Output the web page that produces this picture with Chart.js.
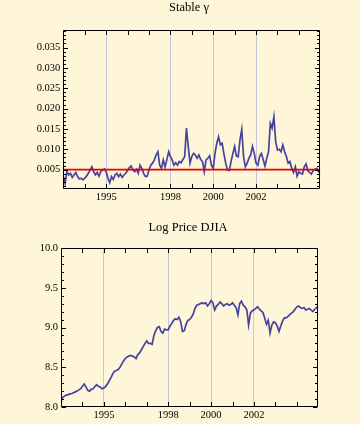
<!DOCTYPE html>
<html><head><meta charset="utf-8">
<script src="https://cdn.jsdelivr.net/npm/chart.js@4/dist/chart.umd.min.js"></script>
<style>
html,body{margin:0;padding:0;background:#FFF5D8;}
#wrap{position:relative;width:360px;height:424px;overflow:hidden;background:#FFF5D8;}
canvas{position:absolute;left:0;display:block;}
</style></head><body>
<div id="wrap">
<canvas id="c1" width="360" height="212" style="top:0"></canvas>
<canvas id="c2" width="360" height="212" style="top:212px"></canvas>
</div>
<script>
// ---- data (monthly readings, Jan 1993 .. Jan 2005) ----
const startYear = 1993;
const endYear = 2005;
const gammaValues = [
0.0033,0.0016,0.0045,0.0037,0.0041,0.0031,0.0037,0.0043,0.0033,0.0027,0.0029,0.0025,
0.0029,0.0034,0.0041,0.0049,0.0057,0.0045,0.0037,0.0043,0.0034,0.0045,0.0049,0.0052,
0.0045,0.0029,0.0018,0.0033,0.0026,0.0037,0.0041,0.0033,0.0039,0.0031,0.0037,0.0041,
0.0048,0.0055,0.0059,0.0049,0.0045,0.0051,0.0041,0.0061,0.0053,0.0041,0.0033,0.0034,
0.0049,0.0061,0.0066,0.0074,0.0086,0.0094,0.0061,0.0053,0.0074,0.0057,0.0074,0.0094,
0.0082,0.0074,0.0061,0.0067,0.0061,0.0070,0.0067,0.0075,0.0082,0.0152,0.0107,0.0066,
0.0082,0.0090,0.0086,0.0078,0.0086,0.0075,0.0070,0.0045,0.0074,0.0078,0.0084,0.0061,
0.0053,0.0090,0.0115,0.0131,0.0111,0.0115,0.0089,0.0066,0.0049,0.0048,0.0070,0.0089,
0.0107,0.0084,0.0082,0.0123,0.0149,0.0082,0.0057,0.0066,0.0078,0.0086,0.0107,0.0090,
0.0066,0.0061,0.0082,0.0090,0.0075,0.0059,0.0078,0.0094,0.0164,0.0152,0.0180,0.0119,
0.0098,0.0100,0.0094,0.0111,0.0094,0.0082,0.0066,0.0070,0.0053,0.0043,0.0057,0.0034,
0.0045,0.0041,0.0039,0.0057,0.0064,0.0048,0.0043,0.0039,0.0048,0.0051,0.0053,0.0045,
0.0041];
const logPriceValues = [
8.075,8.12,8.14,8.15,8.155,8.165,8.17,8.18,8.19,8.2,8.215,8.23,
8.26,8.29,8.25,8.21,8.2,8.225,8.23,8.26,8.28,8.26,8.25,8.23,
8.24,8.26,8.29,8.33,8.37,8.42,8.45,8.46,8.47,8.5,8.54,8.58,
8.61,8.63,8.64,8.65,8.64,8.63,8.61,8.66,8.68,8.72,8.76,8.80,
8.83,8.80,8.80,8.79,8.90,8.96,9.0,9.01,8.95,8.93,8.98,8.97,
8.97,9.02,9.05,9.09,9.11,9.1,9.13,9.07,8.95,8.96,9.04,9.09,
9.1,9.13,9.17,9.24,9.28,9.29,9.30,9.31,9.30,9.31,9.27,9.3,
9.34,9.31,9.22,9.27,9.29,9.32,9.30,9.27,9.29,9.30,9.28,9.29,
9.31,9.28,9.25,9.16,9.30,9.33,9.28,9.26,9.22,9.03,9.18,9.21,
9.22,9.24,9.26,9.23,9.21,9.19,9.12,9.04,9.09,8.93,9.03,9.07,
9.06,9.02,8.95,9.02,9.08,9.12,9.12,9.14,9.16,9.18,9.2,9.23,
9.26,9.27,9.25,9.24,9.25,9.22,9.23,9.24,9.22,9.2,9.23,9.25,
9.27];
const gammaThreshold = [0.005, 0.005];
const thresholdYears = [1993, 2005];
// ---- axes ----
const xLabelYears = [1995, 1998, 2000, 2002];
const xTickYears = [1994,1995,1996,1997,1998,1999,2000,2001,2002,2003,2004];
const gammaMajorTicks = [0.005,0.010,0.015,0.020,0.025,0.030,0.035];
const gammaMinorTicks = [0.001,0.002,0.003,0.004,0.006,0.007,0.008,0.009,0.011,0.012,0.013,0.014,
  0.016,0.017,0.018,0.019,0.021,0.022,0.023,0.024,0.026,0.027,0.028,0.029,0.031,0.032,0.033,0.034,
  0.036,0.037,0.038,0.039];
const priceMajorTicks = [8.0,8.5,9.0,9.5,10.0];
const priceMinorTicks = [8.1,8.2,8.3,8.4,8.6,8.7,8.8,8.9,9.1,9.2,9.3,9.4,9.6,9.7,9.8,9.9];

const monthYears = gammaValues.map((_, i) => startYear + i / 12);
const toXY = (xs, ys) => ys.map((v, i) => ({x: xs[i], y: v}));

const LINE = '#4444A0';
const GRID = '#C5C8DA';
const FONT = 'Liberation Serif, Times New Roman, serif';

const frameTicks = {
  id: 'frameTicks',
  afterDatasetsDraw(chart, args, o) {
    const {ctx, chartArea: a, scales: {x, y}} = chart;
    ctx.save();
    ctx.strokeStyle = '#000';
    ctx.lineWidth = 1;
    const L = Math.round(a.left) + 0.5, R = Math.round(a.right) - 0.5;
    const T = Math.round(a.top) + 0.5, B = Math.round(a.bottom) - 0.5;
    ctx.beginPath();
    ctx.rect(L, T, R - L, B - T);
    xTickYears.forEach(yr => {
      const px = Math.round(x.getPixelForValue(yr)) + 0.5;
      ctx.moveTo(px, B); ctx.lineTo(px, B - 4.5);
      ctx.moveTo(px, T); ctx.lineTo(px, T + 4.5);
    });
    o.major.forEach(v => {
      const py = Math.round(y.getPixelForValue(v)) + 0.5;
      ctx.moveTo(L, py); ctx.lineTo(L + 4.5, py);
      ctx.moveTo(R, py); ctx.lineTo(R - 4.5, py);
    });
    o.minor.forEach(v => {
      const py = Math.round(y.getPixelForValue(v)) + 0.5;
      ctx.moveTo(L, py); ctx.lineTo(L + 2.5, py);
      ctx.moveTo(R, py); ctx.lineTo(R - 2.5, py);
    });
    ctx.stroke();
    ctx.restore();
  }
};

function makeChart(id, cfg) {
  return new Chart(document.getElementById(id), {
    type: 'line',
    data: {datasets: cfg.datasets},
    plugins: [frameTicks],
    options: {
      responsive: false,
      animation: false,
      devicePixelRatio: 1,
      layout: {padding: {left: cfg.padLeft, right: 0, top: 0, bottom: 0}},
      elements: {point: {radius: 0}, line: {tension: 0}},
      plugins: {
        legend: {display: false},
        tooltip: {enabled: false},
        title: {display: true, text: cfg.title, color: '#000',
          font: {family: FONT, size: 12.5, weight: 'normal', lineHeight: 1.2},
          padding: cfg.titlePad},
        frameTicks: {major: cfg.major, minor: cfg.minor}
      },
      scales: {
        x: {
          type: 'linear', min: startYear, max: endYear,
          afterBuildTicks: s => { s.ticks = xLabelYears.map(v => ({value: v})); },
          afterFit: s => { s.height = cfg.xHeight; },
          ticks: {color: '#000', padding: 2, maxRotation: 0, autoSkip: false,
            font: {family: FONT, size: 10.5, lineHeight: 1.2},
            callback: v => String(v)},
          grid: {color: GRID, lineWidth: 1, drawTicks: false},
          border: {display: false}
        },
        y: {
          type: 'linear', position: 'left', min: cfg.yMin, max: cfg.yMax,
          afterBuildTicks: s => { s.ticks = cfg.major.map(v => ({value: v})); },
          afterFit: s => { s.width = cfg.yWidth; },
          ticks: {color: '#000', padding: 3, autoSkip: false,
            font: {family: FONT, size: 10.5, lineHeight: 1.2},
            callback: v => v.toFixed(cfg.decimals)},
          grid: {display: false, drawTicks: false},
          border: {display: false}
        },
        yRight: {
          type: 'linear', position: 'right', min: cfg.yMin, max: cfg.yMax,
          afterFit: s => { s.width = cfg.rightWidth; },
          ticks: {display: false},
          grid: {display: false, drawTicks: false},
          border: {display: false}
        }
      }
    }
  });
}

makeChart('c1', {
  title: 'Stable γ',
  titlePad: {top: 0, bottom: 15},
  padLeft: 18, yWidth: 45.3, rightWidth: 39.7, xHeight: 23,
  yMin: 0.00025, yMax: 0.0393, decimals: 3,
  major: gammaMajorTicks, minor: gammaMinorTicks,
  datasets: [
    {data: toXY(thresholdYears, gammaThreshold), borderColor: '#E80000', borderWidth: 1.6, order: 0},
    {data: toXY(monthYears, gammaValues), borderColor: LINE, borderWidth: 1.7, order: 1}
  ]
});

makeChart('c2', {
  title: 'Log Price DJIA',
  titlePad: {top: 8.5, bottom: 12.5},
  padLeft: 16, yWidth: 45, rightWidth: 41.7, xHeight: 17,
  yMin: 8.0, yMax: 10.0, decimals: 1,
  major: priceMajorTicks, minor: priceMinorTicks,
  datasets: [
    {data: toXY(monthYears, logPriceValues), borderColor: LINE, borderWidth: 1.7}
  ]
});
</script>
</body></html>
